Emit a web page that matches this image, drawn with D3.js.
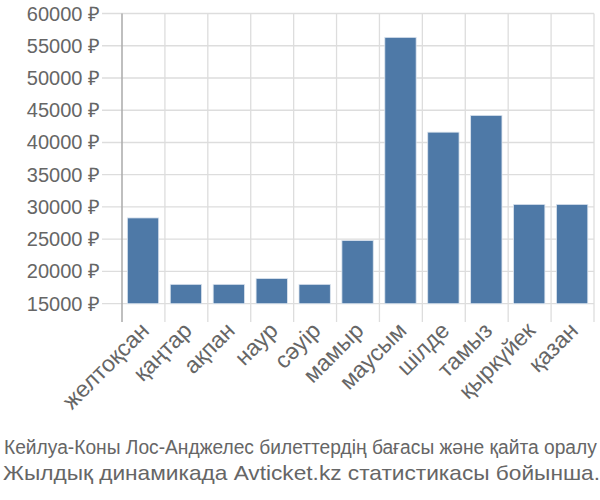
<!DOCTYPE html>
<html><head><meta charset="utf-8">
<script src="https://cdn.jsdelivr.net/npm/d3@7"></script>
<style>body{margin:0;background:#fff}svg{display:block}text{font-family:"Liberation Sans",Arial,sans-serif}</style>
</head><body><svg id="c" width="600" height="500"></svg>
<script>
const categories = ["желтоқсан","қаңтар","ақпан","наур","сәуір","мамыр","маусым","шілде","тамыз","қыркүйек","қазан"];
const prices = [28300, 18000, 18000, 18900, 18000, 24800, 56300, 41600, 44200, 30400, 30400];
const yTicks = [15000,20000,25000,30000,35000,40000,45000,50000,55000,60000];
const footer1 = "Кейлуа-Коны Лос-Анджелес билеттердің бағасы және қайта оралу";
const footer2 = "Жылдық динамикада Avticket.kz статистикасы бойынша.";

const svg = d3.select("#c");
const L = 122, R = 594, T = 13.5, B = 303.7;
const x = d3.scaleBand().domain(categories).range([L, R]).padding(0);
const y = d3.scaleLinear().domain([15000, 60000]).range([B, T]);

svg.append("g").selectAll("line").data(yTicks).join("line")
  .attr("x1", 102).attr("x2", R).attr("y1", d => y(d)).attr("y2", d => y(d))
  .attr("stroke", "#dddddd").attr("stroke-width", 1.3);
const bounds = categories.map(c => x(c)).concat([R]);
svg.append("g").selectAll("line").data(bounds.slice(1)).join("line")
  .attr("x1", d => d).attr("x2", d => d).attr("y1", T).attr("y2", 322)
  .attr("stroke", "#dddddd").attr("stroke-width", 1.3);
svg.append("line").attr("x1", L).attr("x2", L).attr("y1", T).attr("y2", 322)
  .attr("stroke", "#aaaaaa").attr("stroke-width", 1.5);

const bw = x.bandwidth();
svg.append("g").selectAll("rect").data(prices).join("rect")
  .attr("x", (d, i) => x(categories[i]) + bw * 0.125)
  .attr("width", bw * 0.73)
  .attr("y", d => y(d))
  .attr("height", d => B - y(d))
  .attr("fill", "#4e79a7")
  .attr("stroke", "#dbe4ee").attr("stroke-width", 0.8);

svg.append("g").selectAll("text").data(yTicks).join("text")
  .attr("x", 100).attr("y", d => y(d)).attr("dy", "0.35em")
  .attr("text-anchor", "end").attr("font-size", 20).attr("fill", "#666")
  .text(d => d + " ₽");

svg.append("g").selectAll("text").data(categories).join("text")
  .attr("transform", d => `translate(${x(d) + bw/2 + 7},${332}) rotate(-45)`)
  .attr("text-anchor", "end").attr("font-size", 23).attr("fill", "#666")
  .text(d => d);

svg.append("text").attr("transform", "translate(4,454) scale(0.96,1)")
  .attr("font-size", 20).attr("fill", "#666").text(footer1);
svg.append("text").attr("x", 3).attr("y", 480).attr("font-size", 21).attr("fill", "#666")
  .attr("textLength", 597).attr("lengthAdjust", "spacingAndGlyphs").text(footer2);
</script></body></html>
